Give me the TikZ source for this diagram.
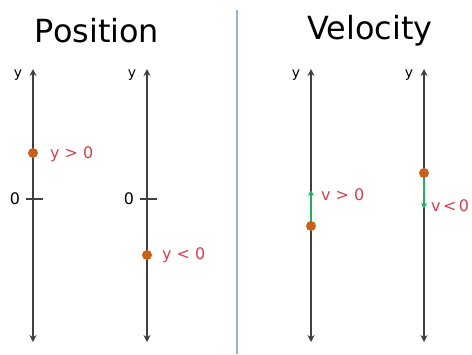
\documentclass[tikz,border=0pt]{standalone}
\usepackage{fontspec}
\setmainfont{DejaVu Sans}
\usetikzlibrary{arrows.meta}
\definecolor{axisgray}{HTML}{404040}
\definecolor{dotorange}{HTML}{C8601A}
\definecolor{lblred}{HTML}{D0404E}
\definecolor{velgreen}{HTML}{22B060}
\definecolor{divblue}{HTML}{90B6D2}
\newcommand\mytightspace{\spaceskip 2.5bp\relax}
\begin{document}
\begin{tikzpicture}[x=1bp,y=-1bp,
  title/.style={font=\fontsize{32}{34}\selectfont, text=black, inner sep=0pt},
  axis/.style={draw=axisgray, line width=2bp, {Stealth[length=7bp,width=7bp]}-{Stealth[length=7bp,width=7bp]}},
  axlabel/.style={font=\fontsize{14}{14}\selectfont, text=black, inner sep=0pt},
  zerolabel/.style={font=\fontsize{16}{16}\selectfont, text=black, inner sep=0pt},
  tick/.style={draw=axisgray, line width=1.5bp},
  val/.style={font=\fontsize{16}{16}\selectfont, text=lblred, inner sep=0pt, anchor=west},
  tightval/.style={val, font={\fontsize{16}{16}\selectfont\mytightspace}},
  dot/.style={circle, fill=dotorange, minimum size=10bp, inner sep=0pt},
  velarrow/.style={draw=velgreen, line width=2.4bp, -{Stealth[length=6bp,width=6bp]}},
  divider/.style={draw=divblue, line width=1.6bp}
]
\useasboundingbox (0,0) rectangle (472,354);

% titles
\node[title] (tpos) at (97,31) {Position};
\node[title] (tvel) at (370,31) {Velocity};

% divider
\coordinate (dtop) at (237,10);
\coordinate (dbot) at (237,354);
\draw[divider] (dtop) -- (dbot);

% axes
\foreach \i/\x in {1/33,2/147,3/311,4/424}{
  \coordinate (top\i) at (\x,69);
  \coordinate (bot\i) at (\x,342);
  \draw[axis] (bot\i) -- (top\i);
  \node[axlabel] (ylab\i) at (\x-15,75) {y};
}

% zero ticks
\foreach \i/\x in {1/33,2/147}{
  \coordinate (tl\i) at (\x-7,199);
  \coordinate (tr\i) at (\x+10,199);
  \draw[tick] (tl\i) -- (tr\i);
  \node[zerolabel] (zero\i) at (\x-18,199) {0};
}

% position dots
\node[dot] (p1) at (33,153) {};
\node[val] (lp1) at (50,154) {y > 0};
\node[dot] (p2) at (147,255) {};
\node[val] (lp2) at (162,255) {y < 0};

% velocity
\node[dot] (v1) at (311,226) {};
\coordinate (v1end) at (311,190);
\draw[velarrow] (v1) -- (v1end);
\node[val] (lv1) at (321,195) {v > 0};

\node[dot] (v2) at (424,173) {};
\coordinate (v2end) at (424,209);
\draw[velarrow] (v2) -- (v2end);
\node[tightval] (lv2) at (431,206) {v < 0};
\end{tikzpicture}
\end{document}
